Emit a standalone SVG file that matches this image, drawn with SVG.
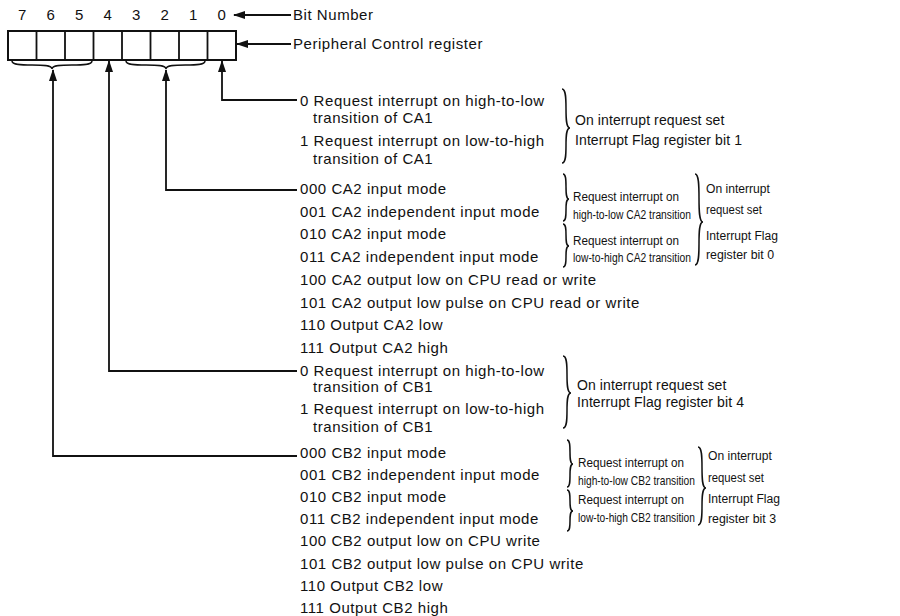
<svg xmlns="http://www.w3.org/2000/svg" width="900" height="616" viewBox="0 0 900 616">
<style>
text{font-family:"Liberation Sans",Arial,sans-serif;font-size:15px;letter-spacing:0.55px;fill:#111}
.c{text-anchor:middle}
.m{font-size:14px;letter-spacing:0.1px}
.s{font-size:13.5px;letter-spacing:0}
.ln{fill:none;stroke:#111;stroke-width:1.8}
.br{fill:none;stroke:#111;stroke-width:1.5}
.cell{fill:#fff;stroke:#111;stroke-width:2}
</style>
<defs>
<marker id="ah" markerUnits="userSpaceOnUse" markerWidth="12" markerHeight="8" refX="11" refY="4" orient="auto">
<path d="M0,0 L12,4 L0,8 z" fill="#111"/>
</marker>
</defs>
<rect fill="#fff" width="900" height="616"/>
<g id="register">
<rect class="cell" x="8" y="31" width="228" height="29"/>
<path class="ln" d="M36.5,31V60M65,31V60M93.5,31V60M122,31V60M150.5,31V60M179,31V60M207.5,31V60"/>
</g>
<g id="bit-numbers">
<text class="c" x="22.5" y="20">7</text>
<text class="c" x="51" y="20">6</text>
<text class="c" x="79.5" y="20">5</text>
<text class="c" x="108" y="20">4</text>
<text class="c" x="136.5" y="20">3</text>
<text class="c" x="165" y="20">2</text>
<text class="c" x="193.5" y="20">1</text>
<text class="c" x="222" y="20">0</text>
</g>
<g id="underbraces">
<path class="br" d="M12,61 C12,69 52,61 52,69 C52,61 92,69 92,61"/>
<path class="br" d="M126,61 C126,69 166,61 166,69 C166,61 205,69 205,61"/>
</g>
<g id="connectors">
<path class="ln" d="M291,15H234" marker-end="url(#ah)"/>
<path class="ln" d="M291,44H237" marker-end="url(#ah)"/>
<path class="ln" d="M297,100H222V61" marker-end="url(#ah)"/>
<path class="ln" d="M297,190H166V70" marker-end="url(#ah)"/>
<path class="ln" d="M297,371H109V61" marker-end="url(#ah)"/>
<path class="ln" d="M297,456H53V70" marker-end="url(#ah)"/>
</g>
<g id="labels">
<text x="293" y="20">Bit Number</text>
<text x="293" y="49">Peripheral Control register</text>
</g>
<g id="ca1">
<text x="300" y="106">0 Request interrupt on high-to-low</text>
<text x="313" y="123">transition of CA1</text>
<text x="300" y="146">1 Request interrupt on low-to-high</text>
<text x="313" y="164">transition of CA1</text>
<path class="br" d="M562,89 C570,89 562,128 570,128 C562,128 570,163 562,163"/>
<text class="m" x="575" y="125">On interrupt request set</text>
<text class="m" x="575" y="145">Interrupt Flag register bit 1</text>
</g>
<g id="ca2">
<text x="300" y="194">000 CA2 input mode</text>
<text x="300" y="216.7">001 CA2 independent input mode</text>
<text x="300" y="239.4">010 CA2 input mode</text>
<text x="300" y="262.1">011 CA2 independent input mode</text>
<text x="300" y="284.8">100 CA2 output low on CPU read or write</text>
<text x="300" y="307.5">101 CA2 output low pulse on CPU read or write</text>
<text x="300" y="330.2">110 Output CA2 low</text>
<text x="300" y="352.9">111 Output CA2 high</text>
<path class="br" d="M563,174 C569,174 563,199 569,199 C563,199 569,221 563,221"/>
<path class="br" d="M563,224 C569,224 563,246 569,246 C563,246 569,267 563,267"/>
<text class="s" transform="translate(573 201) scale(0.867 1)">Request interrupt on</text>
<text class="s" transform="translate(573 219) scale(0.763 1)">high-to-low CA2 transition</text>
<text class="s" transform="translate(573 245) scale(0.867 1)">Request interrupt on</text>
<text class="s" transform="translate(573 262) scale(0.763 1)">low-to-high CA2 transition</text>
<path class="br" d="M695,174 C703,174 695,222 703,222 C695,222 703,265 695,265"/>
<text class="s" transform="translate(706 193) scale(0.898 1)">On interrupt</text>
<text class="s" transform="translate(706 214) scale(0.838 1)">request set</text>
<text class="s" transform="translate(706 240) scale(0.897 1)">Interrupt Flag</text>
<text class="s" transform="translate(706 259) scale(0.916 1)">register bit 0</text>
</g>
<g id="cb1">
<text x="300" y="376">0 Request interrupt on high-to-low</text>
<text x="313" y="392">transition of CB1</text>
<text x="300" y="414">1 Request interrupt on low-to-high</text>
<text x="313" y="432">transition of CB1</text>
<path class="br" d="M563,356 C571,356 563,393 571,393 C563,393 571,428 563,428"/>
<text class="m" x="577" y="390">On interrupt request set</text>
<text class="m" x="577" y="406.5">Interrupt Flag register bit 4</text>
</g>
<g id="cb2">
<text x="300" y="458">000 CB2 input mode</text>
<text x="300" y="480.1">001 CB2 independent input mode</text>
<text x="300" y="502.2">010 CB2 input mode</text>
<text x="300" y="524.3">011 CB2 independent input mode</text>
<text x="300" y="546.4">100 CB2 output low on CPU write</text>
<text x="300" y="568.5">101 CB2 output low pulse on CPU write</text>
<text x="300" y="590.6">110 Output CB2 low</text>
<text x="300" y="612.7">111 Output CB2 high</text>
<path class="br" d="M567,440 C573,440 567,464 573,464 C567,464 573,487 567,487"/>
<path class="br" d="M567,490 C573,490 567,511 573,511 C567,511 573,531 567,531"/>
<text class="s" transform="translate(578 467) scale(0.867 1)">Request interrupt on</text>
<text class="s" transform="translate(578 485) scale(0.757 1)">high-to-low CB2 transition</text>
<text class="s" transform="translate(578 504) scale(0.867 1)">Request interrupt on</text>
<text class="s" transform="translate(578 522) scale(0.757 1)">low-to-high CB2 transition</text>
<path class="br" d="M698,447 C706,447 698,488 706,488 C698,488 706,525 698,525"/>
<text class="s" transform="translate(708 460) scale(0.898 1)">On interrupt</text>
<text class="s" transform="translate(708 482) scale(0.838 1)">request set</text>
<text class="s" transform="translate(708 503) scale(0.897 1)">Interrupt Flag</text>
<text class="s" transform="translate(708 523) scale(0.916 1)">register bit 3</text>
</g>
</svg>
